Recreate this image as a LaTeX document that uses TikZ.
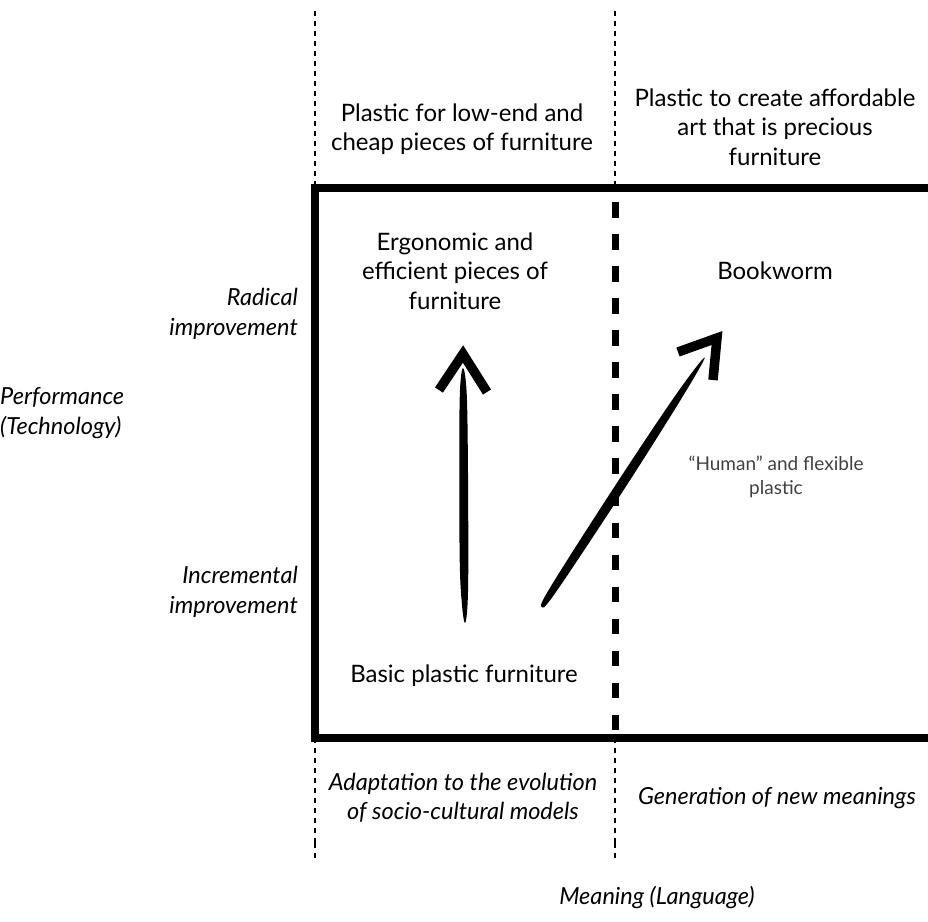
\documentclass[tikz,border=0pt]{standalone}
\usepackage{fontspec}
\setmainfont{Lato}
\begin{document}
\begin{tikzpicture}[x=1pt,y=-1pt,
  lbl/.style={align=center, font=\fontsize{24}{29.5}\selectfont, inner sep=0pt},
  axislbl/.style={font=\fontsize{23.5}{29.5}\selectfont\itshape, inner sep=0pt},
  note/.style={align=center, font=\fontsize{19}{24.5}\selectfont, text=black!75, inner sep=0pt},
  guide/.style={line width=2pt, dash pattern=on 5pt off 5pt},
  frame/.style={line width=8pt, line join=miter},
  divider/.style={line width=7pt, dash pattern=on 15.5pt off 16.56pt},
  brushhead/.style={line width=9.5pt, line join=miter, line cap=butt}]
\useasboundingbox (0,0) rectangle (928,921);

% thin dotted guides above and below the frame
\draw[guide] (315,11) -- (315,184);
\draw[guide] (615,11) -- (615,184);
\draw[guide] (315,843) -- (315,742) (315,843) -- (315,858);
\draw[guide] (615,843) -- (615,742) (615,843) -- (615,858);

% main frame, open on the right
\draw[frame] (928,188) -- (315,188) -- (315,737.5) -- (928,737.5);

% heavy dashed divider
\draw[divider] (615,202) -- (615,731);

% column headers
\node[lbl] (hdrA) at (462,129) {Plastic for low-end and\\cheap pieces of furniture};
\node[lbl] (hdrB) at (775,127) {Plastic to create affordable\\art that is precious\\furniture};

% cell texts
\node[lbl] (ergo) at (455,271) {Ergonomic and\\efficient pieces of\\furniture};
\node[lbl] (book) at (775,271) {Bookworm};
\node[lbl] (basic) at (464,676) {Basic plastic furniture};
\node[note] (human) at (776,477) {``Human'' and flexible\\plastic};

% vertical axis labels
\node[axislbl, align=right, anchor=east] (radical) at (298,314) {Radical\\improvement};
\node[axislbl, align=left, anchor=west] (perf) at (0,413) {Performance\\(Technology)};
\node[axislbl, align=right, anchor=east] (incr) at (298,592) {Incremental\\improvement};

% horizontal axis labels
\node[axislbl, align=center] (adapt) at (463,798) {Adaptation to the evolution\\of socio-cultural models};
\node[axislbl] (gen) at (777,798) {Generation of new meanings};
\node[axislbl] (meaning) at (657,898) {Meaning (Language)};

% brush-stroke arrow: basic -> ergonomic
\coordinate (vbot) at (465,623);
\coordinate (vtip) at (463,354);
\fill plot[smooth cycle, tension=0.6] coordinates
  {(463,368) (466.5,390) (467.8,450) (468.3,560) (467.5,605) (vbot) (462,605) (459.7,560) (459.3,450) (460,390)};
\draw[brushhead] (439,390) -- (vtip) -- (487,392);

% brush-stroke arrow: basic -> bookworm
\coordinate (dbot) at (542,607);
\coordinate (dtip) at (717,338);
\begin{scope}[shift={(dbot)}, rotate=56.9]
  \fill plot[smooth cycle, tension=0.6] coordinates
    {(0,0) (20,-3.8) (140,-5) (250,-3.8) (298,0) (250,3) (140,4.5) (20,3.5)};
\end{scope}
\draw[brushhead] (678,352) -- (dtip) -- (713,380);
\end{tikzpicture}
\end{document}
